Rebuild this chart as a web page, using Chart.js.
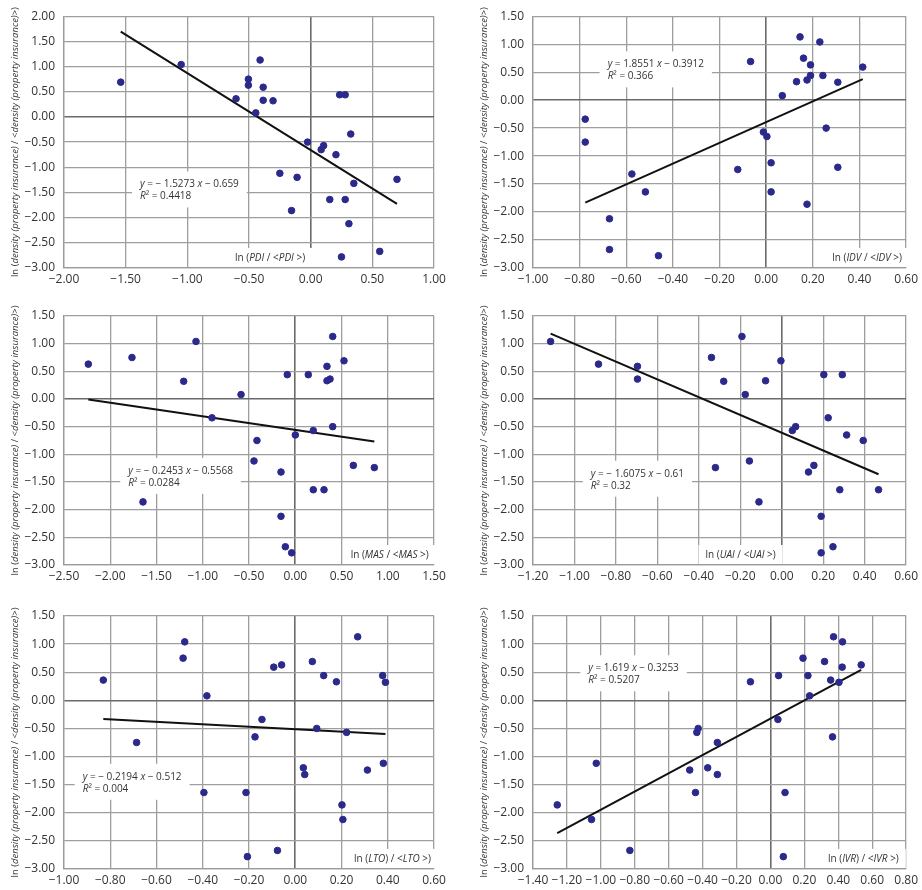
<!DOCTYPE html>
<html>
<head>
<meta charset="utf-8">
<script src="https://cdn.jsdelivr.net/npm/chart.js@4.4.1/dist/chart.umd.min.js"></script>
<style>
  body { margin: 0; background: #fff; width: 922px; height: 890px; position: relative; overflow: hidden; }
  canvas { position: absolute; }
</style>
</head>
<body>
<script>
// ln(density / <density>) per country, shared by all six panels
const yDensity = [1.13, 1.04, 0.75, 0.69, 0.63, 0.59, 0.44, 0.44, 0.36, 0.33, 0.32, 0.08,
  -0.34, -0.50, -0.57, -0.65, -0.75, -1.12, -1.20, -1.24, -1.32, -1.64, -1.64, -1.86, -2.12, -2.67, -2.78];

// ln(dimension / <dimension>), same country order as yDensity
const pdiX = [-0.41, -1.05, -0.505, -1.54, -0.505, -0.385, 0.235, 0.28, -0.605, -0.385, -0.305, -0.445,
  0.325, -0.025, 0.105, 0.085, 0.205, -0.25, -0.11, 0.70, 0.35, 0.155, 0.28, -0.155, 0.31, 0.56, 0.25];
const idvX = [0.145, 0.23, 0.16, -0.067, 0.19, 0.414, 0.243, 0.19, 0.175, 0.13, 0.307, 0.069,
  -0.776, 0.257, -0.012, 0.003, -0.776, 0.021, 0.307, -0.122, -0.576, -0.518, 0.021, 0.175, -0.672, -0.672, -0.462];
const masX = [0.405, -1.073, -1.765, 0.527, -2.237, 0.343, 0.141, -0.086, 0.376, 0.343, -1.206, -0.586,
  -0.90, 0.405, 0.195, 0.001, -0.414, -0.446, 0.628, 0.855, -0.154, 0.195, 0.311, -1.646, -0.154, -0.107, -0.039];
const uaiX = [-0.192, -1.115, -0.339, -0.004, -0.884, -0.696, 0.292, 0.203, -0.696, -0.078, -0.28, -0.176,
  0.224, 0.067, 0.051, 0.313, 0.393, -0.156, 0.155, -0.32, 0.129, 0.467, 0.28, -0.11, 0.19, 0.247, 0.19];
const ltoX = [0.27, -0.478, -0.485, 0.074, -0.059, -0.093, 0.378, 0.123, -0.83, 0.178, 0.39, -0.382,
  -0.144, 0.093, 0.222, -0.174, -0.686, 0.381, 0.035, 0.312, 0.041, -0.395, -0.213, 0.202, 0.206, -0.077, -0.207];
const ivrX = [0.372, 0.425, 0.192, 0.319, 0.535, 0.423, 0.221, 0.048, 0.355, -0.118, 0.404, 0.231,
  0.044, -0.426, -0.434, 0.366, -0.313, -1.027, -0.37, -0.476, -0.313, -0.442, 0.086, -1.257, -1.055, -0.829, 0.076];

// regression lines as printed on the charts
const slopes = [-1.5273, 1.8551, -0.2453, -1.6075, -0.2194, 1.619];
const intercepts = [-0.659, -0.3912, -0.5568, -0.61, -0.512, -0.3253];
const eqLabels = [
  ['y', ' = − 1.5273 ', 'x', ' − 0.659'],
  ['y', ' = 1.8551 ', 'x', ' − 0.3912'],
  ['y', ' = − 0.2453 ', 'x', ' − 0.5568'],
  ['y', ' = − 1.6075 ', 'x', ' − 0.61'],
  ['y', ' = − 0.2194 ', 'x', ' − 0.512'],
  ['y', ' = 1.619 ', 'x', ' − 0.3253']
];
const r2Labels = ['0.4418', '0.366', '0.0284', '0.32', '0.004', '0.5207'];
const axisNames = [
  ['ln (', 'PDI', ' / <', 'PDI', ' >)'],
  ['ln (', 'IDV', ' / <', 'IDV', ' >)'],
  ['ln (', 'MAS', ' / <', 'MAS', ' >)'],
  ['ln (', 'UAI', ' / <', 'UAI', ' >)'],
  ['ln (', 'LTO', ') / <', 'LTO', ' >)'],
  ['ln (', 'IVR', ') / <', 'IVR', ' >)']
];
const yTitle = ['ln (', 'density (property insurance)', ' / <', 'density (property insurance)', '>)'];

// panel layout
const panels = [
  { x: pdiX, xmin: -2, xmax: 1, xstep: 0.5, ymax: 2, eqAt: [-1.384, -1.34], nameAt: [-0.614, -2.80], left: 0, top: 0, padTop: 15, area: 253, w: 450, padRight: 16 },
  { x: idvX, xmin: -1, xmax: 0.6, xstep: 0.2, ymax: 1.5, eqAt: [-0.680, 0.64], nameAt: [0.283, -2.82], left: 469, top: 0, padTop: 15, area: 253, w: 453, padRight: 15 },
  { x: masX, xmin: -2.5, xmax: 1.5, xstep: 0.5, ymax: 1.5, eqAt: [-1.805, -1.30], nameAt: [0.599, -2.82], left: 0, top: 295, padTop: 21, area: 249, w: 450, padRight: 16 },
  { x: uaiX, xmin: -1.2, xmax: 0.6, xstep: 0.2, ymax: 1.5, eqAt: [-0.921, -1.35], nameAt: [-0.368, -2.82], left: 469, top: 295, padTop: 21, area: 249, w: 453, padRight: 15 },
  { x: ltoX, xmin: -1, xmax: 0.6, xstep: 0.2, ymax: 1.5, eqAt: [-0.919, -1.36], nameAt: [0.254, -2.82], left: 0, top: 590, padTop: 26, area: 253, w: 450, padRight: 16 },
  { x: ivrX, xmin: -1.4, xmax: 0.8, xstep: 0.2, ymax: 1.5, eqAt: [-1.074, 0.57], nameAt: [0.339, -2.82], left: 469, top: 590, padTop: 26, area: 253, w: 453, padRight: 15 }
];

const FONT = '"Open Sans", "Noto Sans", sans-serif';
const fmt = v => v.toFixed(2).replace('-', '−');

// draws text segments alternating italic/regular
function richWidth(ctx, segs, italFirst, size) {
  let w = 0;
  segs.forEach((s, i) => {
    const it = (i % 2 === 0) === italFirst;
    ctx.font = (it ? 'italic ' : '') + size + 'px ' + FONT;
    w += ctx.measureText(s).width;
  });
  return w;
}
function drawRich(ctx, segs, x, y, italFirst, size) {
  let cx = x;
  segs.forEach((s, i) => {
    const it = (i % 2 === 0) === italFirst;
    ctx.font = (it ? 'italic ' : '') + size + 'px ' + FONT;
    ctx.fillText(s, cx, y);
    cx += ctx.measureText(s).width;
  });
}

const labelsPlugin = {
  id: 'labels',
  beforeDatasetsDraw(chart, args, opts) {
    const ctx = chart.ctx, sx = chart.scales.x, sy = chart.scales.y;
    const i = opts.idx, p = panels[i];
    ctx.save();
    ctx.textBaseline = 'middle';
    // regression equation box
    const ex = sx.getPixelForValue(p.eqAt[0]), ey = sy.getPixelForValue(p.eqAt[1]);
    const r2 = ['R', '² = ' + r2Labels[i]];
    const ew = Math.max(richWidth(ctx, eqLabels[i], true, 10), richWidth(ctx, r2, true, 10));
    ctx.fillStyle = '#fff';
    ctx.fillRect(ex - 8, ey - 13, ew + 16, 36);
    ctx.fillStyle = '#333';
    drawRich(ctx, eqLabels[i], ex, ey, true, 10);
    drawRich(ctx, r2, ex, ey + 12, true, 10);
    // axis name box
    const nx = sx.getPixelForValue(p.nameAt[0]), ny = sy.getPixelForValue(p.nameAt[1]);
    const nw = richWidth(ctx, axisNames[i], false, 10);
    ctx.fillStyle = '#fff';
    ctx.fillRect(nx - 7, ny - 10, nw + 14, chart.chartArea.bottom - ny + 9);
    ctx.fillStyle = '#333';
    drawRich(ctx, axisNames[i], nx, ny, false, 10);
    ctx.restore();
  },
  afterDraw(chart) {
    const ctx = chart.ctx, a = chart.chartArea;
    ctx.save();
    ctx.fillStyle = '#333';
    ctx.textBaseline = 'middle';
    const w = richWidth(ctx, yTitle, false, 9.5);
    ctx.translate(15, (a.top + a.bottom) / 2);
    ctx.rotate(-Math.PI / 2);
    drawRich(ctx, yTitle, -w / 2, 0, false, 9.5);
    ctx.restore();
  }
};

panels.forEach((p, i) => {
  const h = p.padTop + p.area + 22;
  const cv = document.createElement('canvas');
  cv.width = p.w; cv.height = h;
  cv.style.left = p.left + 'px'; cv.style.top = p.top + 'px';
  cv.style.width = p.w + 'px'; cv.style.height = h + 'px';
  document.body.appendChild(cv);

  const pts = p.x.map((v, k) => ({ x: v, y: yDensity[k] }));
  const lo = Math.min(...p.x), hi = Math.max(...p.x);
  const trend = [lo, hi].map(v => ({ x: v, y: slopes[i] * v + intercepts[i] }));
  const gridColor = c => (Math.abs(c.tick.value) < 1e-9 ? '#6a6a6a' : '#9e9e9e');
  const gridWidth = c => (Math.abs(c.tick.value) < 1e-9 ? 1.6 : 1.3);

  new Chart(cv, {
    type: 'scatter',
    data: {
      datasets: [
        { data: pts, backgroundColor: '#2b2a8c', borderColor: '#2b2a8c', pointRadius: 3.3, pointHoverRadius: 3.3 },
        { data: trend, showLine: true, borderColor: '#111', borderWidth: 2, pointRadius: 0, fill: false }
      ]
    },
    options: {
      responsive: false,
      animation: false,
      devicePixelRatio: 1,
      layout: { padding: { top: p.padTop, right: p.padRight, left: 0, bottom: 0 } },
      plugins: { legend: { display: false }, tooltip: { enabled: false }, labels: { idx: i } },
      scales: {
        x: {
          type: 'linear', min: p.xmin, max: p.xmax,
          afterFit: s => { s.height = 22; },
          ticks: { stepSize: p.xstep, autoSkip: false, maxRotation: 0, padding: 4, color: '#333',
            font: { family: FONT, size: 12 }, callback: v => fmt(v) },
          grid: { drawTicks: false, color: gridColor, lineWidth: gridWidth },
          border: { display: true, color: '#9a9a9a', width: 1.3 }
        },
        y: {
          type: 'linear', min: -3, max: p.ymax,
          afterFit: s => { s.width = 64; },
          ticks: { stepSize: 0.5, autoSkip: false, padding: 9, color: '#333',
            font: { family: FONT, size: 12 }, callback: v => fmt(v) },
          grid: { drawTicks: false, color: gridColor, lineWidth: gridWidth },
          border: { display: true, color: '#9a9a9a', width: 1.3 }
        }
      }
    },
    plugins: [labelsPlugin]
  });
});
</script>
</body>
</html>
